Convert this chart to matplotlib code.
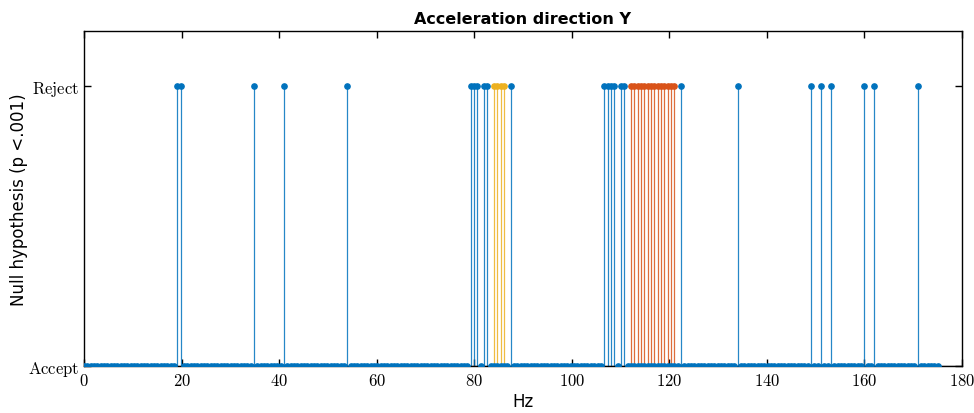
import numpy as np
import matplotlib.pyplot as plt

plt.rcParams['mathtext.fontset'] = 'cm'

# frequency grid of the half spectrum (257 bins up to 175 Hz)
freq = np.linspace(0, 175, 257)

# bins where the null hypothesis is rejected
reject_blue = [28, 29, 51, 60, 79, 116, 117, 118, 120, 121, 128,
               156, 157, 158, 159, 161, 162, 179, 196,
               218, 221, 224, 234, 237, 250]
reject_yellow = [123, 124, 125, 126]
reject_red = list(range(164, 178))

h = np.zeros(len(freq))
h[reject_blue] = 1

c_blue = '#0072BD'
c_yellow = '#EDB120'
c_red = '#D95319'

fig = plt.figure(figsize=(9.74, 4.14), dpi=100)
ax = fig.add_axes([84 / 974, 47 / 414, 878 / 974, 335 / 414])

ax.axhline(0, color='black', lw=0.9, zorder=1)
ax.vlines(freq, 0, h, color=c_blue, lw=0.9, alpha=0.85, zorder=2)
ax.plot(freq, h, 'o', color=c_blue, ms=3.8, mec=c_blue, zorder=3)

for idx, col in ((reject_yellow, c_yellow), (reject_red, c_red)):
    f = freq[idx]
    v = np.ones(len(idx))
    ax.vlines(f, 0, v, color=col, lw=0.9, alpha=0.85, zorder=2)
    ax.plot(f, v, 'o', color=col, ms=3.8, mec=col, zorder=3)

ax.set_xlim(0, 180)
ax.set_ylim(0, 1.196)
ax.set_xticks(np.arange(0, 181, 20))
ax.set_xticklabels([rf'$\mathrm{{{t}}}$' for t in range(0, 181, 20)], fontsize=12)
ax.set_yticks([0, 1])
ax.set_yticklabels([r'$\mathrm{Accept}$', r'$\mathrm{Reject}$'], fontsize=12)
ax.tick_params(direction='in', top=True, right=True, length=5, width=1.0)
for s in ax.spines.values():
    s.set_linewidth(1.0)

ax.set_title('Acceleration direction Y', fontsize=11.5, fontweight='bold', pad=6)
ax.set_xlabel('Hz', fontsize=12, labelpad=2)
ax.set_ylabel('Null hypothesis (p <.001)', fontsize=12)
ax.yaxis.set_label_coords(-0.064, 0.5)

fig.savefig('out.png', dpi=100)
